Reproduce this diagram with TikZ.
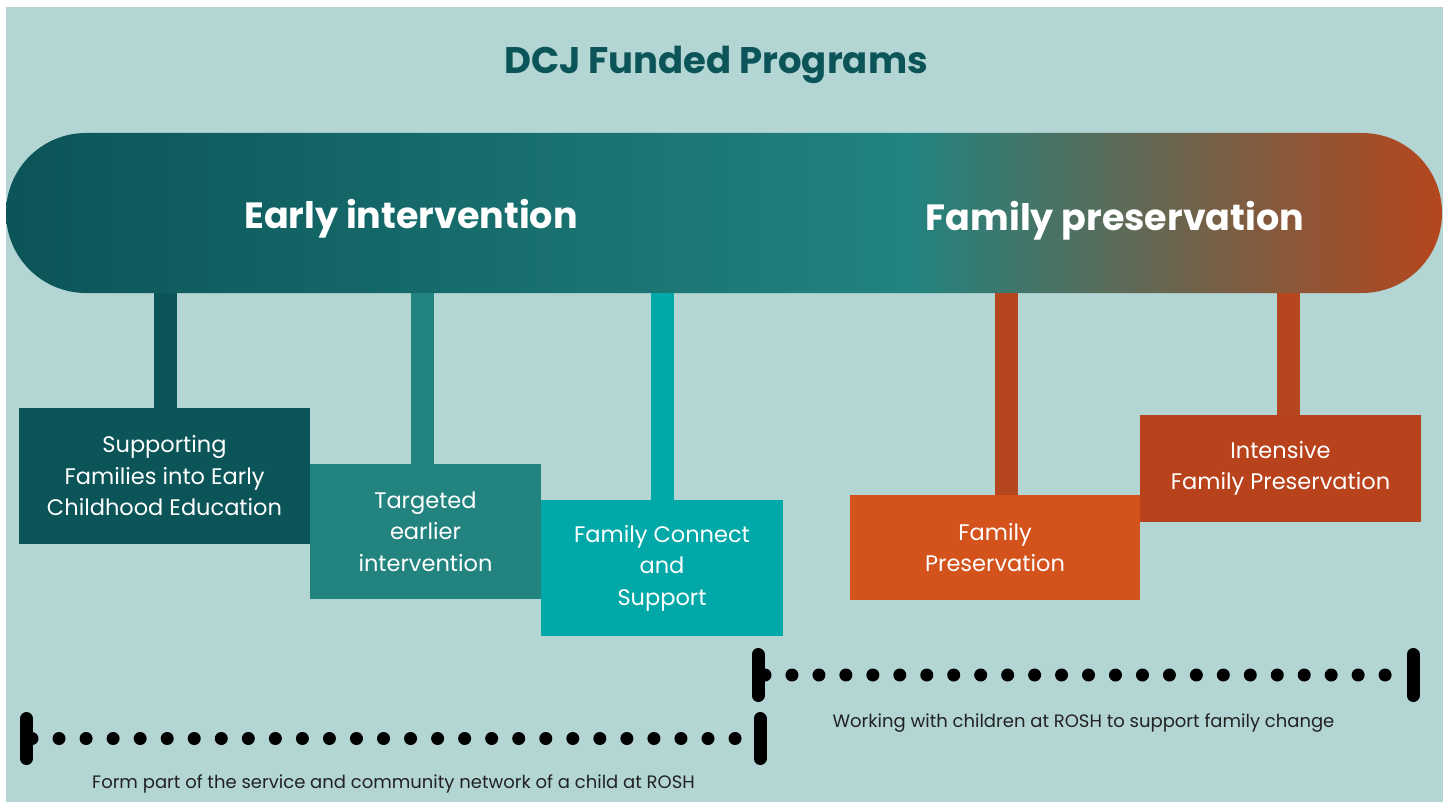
\documentclass[tikz,border=0pt]{standalone}
\usepackage{fontspec}
\setmainfont{Poppins}
\usetikzlibrary{calc}
\definecolor{bg}{HTML}{B3D5D4}
\definecolor{dk}{HTML}{0B5458}
\definecolor{tl}{HTML}{22837F}
\definecolor{cy}{HTML}{00A9A8}
\definecolor{orb}{HTML}{D4531C}
\definecolor{ord}{HTML}{B8421B}
\definecolor{orp}{HTML}{B5461D}
\definecolor{lbl}{HTML}{222222}
\pgfdeclarehorizontalshading{pillshade}{100bp}{color(0bp)=(dk); color(25bp)=(dk); color(56.5bp)=(tl); color(75bp)=(orp); color(100bp)=(orp)}
\begin{document}
\begin{tikzpicture}[x=1pt,y=-1pt,
  box/.style={inner sep=0pt, text=white, align=center, font=\fontsize{22.5}{31.5}\selectfont},
  stem/.style={line width=23pt},
  head/.style={text=white, font=\bfseries\fontsize{36.5}{40}\selectfont, anchor=base, inner sep=0pt},
  lab/.style={text=lbl, font=\fontsize{18}{20}\selectfont, anchor=base, inner sep=0pt},
  bar/.style={line width=13pt, line cap=round},
]
\useasboundingbox (0,0) rectangle (1450,805);
\fill[white] (0,0) rectangle (1450,805);
\fill[bg] (6,7) rectangle (1443,802);

\node[text=dk, font=\bfseries\fontsize{37}{40}\selectfont, anchor=base, inner sep=0pt] (title) at (716,74) {DCJ Funded Programs};

\node[shading=pillshade, minimum width=1436pt, minimum height=160pt, rounded corners=80pt, inner sep=0pt] (pill) at (724,213) {};
\node[head] (ei) at (411,229) {Early intervention};
\node[head] (fp) at (1115,230) {Family preservation};

% boxes
\node[box, fill=dk, minimum width=291pt, minimum height=136pt] (b1) at (164.5,476) {Supporting\\Families into Early\\Childhood Education};
\node[box, fill=tl, minimum width=231pt, minimum height=135pt] (b2) at (425.5,531.5) {Targeted\\earlier\\intervention};
\node[box, fill=cy, minimum width=242pt, minimum height=136pt] (b3) at (662,568) {Family Connect\\and\\Support};
\node[box, fill=orb, minimum width=290pt, minimum height=105pt] (b4) at (995,547.5) {Family\\Preservation};
\node[box, fill=ord, minimum width=281pt, minimum height=107pt] (b5) at (1280.5,468.5) {Intensive\\Family Preservation};

% stems
\coordinate (s1) at ($(b1.north)+(1,0)$);
\coordinate (s2) at ($(b2.north)+(-3,0)$);
\coordinate (s3) at (b3.north);
\coordinate (s4) at ($(b4.north)+(11.5,0)$);
\coordinate (s5) at ($(b5.north)+(8,0)$);
\draw[stem, dk] (s1 |- pill.south) -- (s1);
\draw[stem, tl] (s2 |- pill.south) -- (s2);
\draw[stem, cy] (s3 |- pill.south) -- (s3);
\draw[stem, orp] (s4 |- pill.south) -- (s4);
\draw[stem, orp] (s5 |- pill.south) -- (s5);

% dotted ranges
\coordinate (l1) at (26.5,738.5);
\coordinate (r1) at (760,738.5);
\coordinate (l2) at (758,675);
\coordinate (r2) at (1413,675);
\draw[bar] ($(l1)+(0,-20)$) -- ($(l1)+(0,20)$);
\draw[bar] ($(r1)+(0,-20)$) -- ($(r1)+(0,20)$);
\draw[bar] ($(l2)+(0,-20.5)$) -- ($(l2)+(0,20.5)$);
\draw[bar] ($(r2)+(0,-20.5)$) -- ($(r2)+(0,20.5)$);
\foreach \i in {0,...,26} \fill ({32+27.04*\i},738.5) circle (6.5pt);
\foreach \i in {0,...,23} \fill ({765+26.96*\i},675) circle (6.5pt);

\node[lab] (t1) at (393.5,788) {Form part of the service and community network of a child at ROSH};
\node[lab] (t2) at (1083.5,727) {Working with children at ROSH to support family change};
\end{tikzpicture}
\end{document}
